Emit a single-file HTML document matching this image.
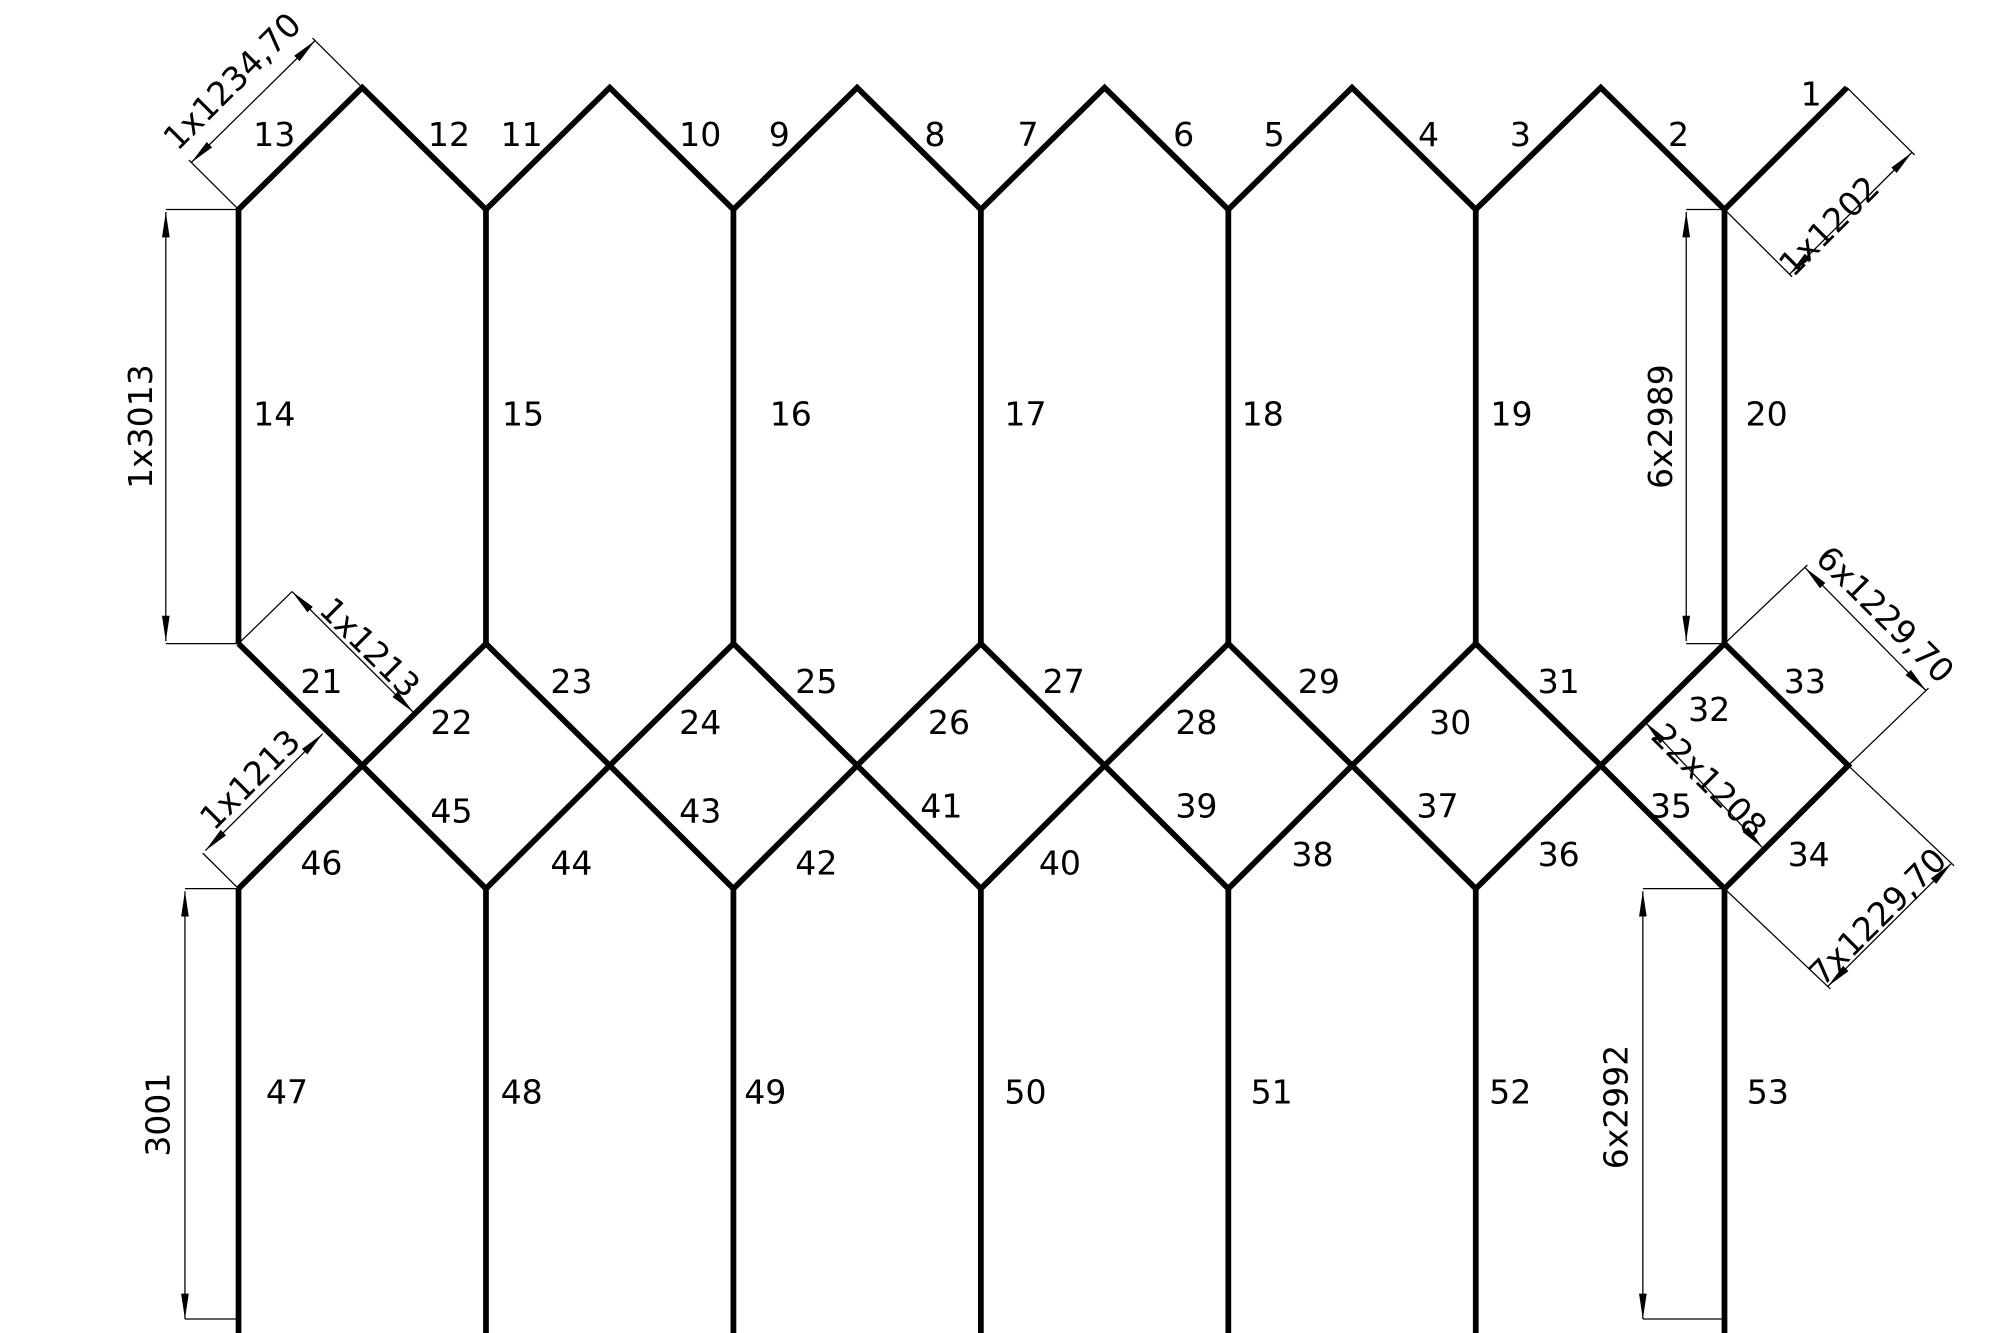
<!DOCTYPE html>
<html><head><meta charset="utf-8"><style>html,body{margin:0;padding:0;background:#fff}svg{display:block}</style></head>
<body>
<svg width="2000" height="1333" viewBox="0 -2 1568 1050" preserveAspectRatio="none" xmlns="http://www.w3.org/2000/svg">
<defs>
<marker id="a" viewBox="0 0 20 8" refX="20" refY="4" markerWidth="20" markerHeight="8" markerUnits="userSpaceOnUse" orient="auto-start-reverse"><path d="M0,1 L20,4 L0,7 z" fill="#000"/></marker>
</defs>
<rect x="0" y="-2" width="1568" height="1050" fill="#fff"/>
<g fill="none" stroke="#000" stroke-width="4.5" stroke-linejoin="miter">
<polyline points="187,505 187,163 284,67 381,163 478,67 575,163 672,67 769,163 866,67 963,163 1060,67 1157,163 1255,67 1352,163 1448,67"/>
<line x1="381" y1="163" x2="381" y2="505"/><line x1="575" y1="163" x2="575" y2="505"/><line x1="769" y1="163" x2="769" y2="505"/><line x1="963" y1="163" x2="963" y2="505"/><line x1="1157" y1="163" x2="1157" y2="505"/><line x1="1352" y1="163" x2="1352" y2="505"/>
<polyline points="187,505 284,601 381,698 478,601 575,505 672,601 769,698 866,601 963,505 1060,601 1157,698 1255,601 1352,505 1449,601 1352,698 1255,601 1157,505 1060,601 963,698 866,601 769,505 672,601 575,698 478,601 381,505 284,601 187,698"/>
<line x1="187" y1="698" x2="187" y2="1050"/><line x1="381" y1="698" x2="381" y2="1050"/><line x1="575" y1="698" x2="575" y2="1050"/><line x1="769" y1="698" x2="769" y2="1050"/><line x1="963" y1="698" x2="963" y2="1050"/><line x1="1157" y1="698" x2="1157" y2="1050"/><line x1="1352" y1="698" x2="1352" y2="1050"/>
</g>
<g fill="none" stroke="#000" stroke-width="1">
<line x1="130" y1="163" x2="187" y2="163"/><line x1="130" y1="505" x2="187" y2="505"/>
<line x1="130" y1="165" x2="130" y2="503" marker-start="url(#a)" marker-end="url(#a)"/>
<line x1="145" y1="698" x2="187" y2="698"/><line x1="145" y1="1037" x2="187" y2="1037"/>
<line x1="145" y1="700" x2="145" y2="1037" marker-start="url(#a)" marker-end="url(#a)"/>
<line x1="1322" y1="163" x2="1352" y2="163"/><line x1="1322" y1="505" x2="1352" y2="505"/>
<line x1="1322" y1="165" x2="1322" y2="503" marker-start="url(#a)" marker-end="url(#a)"/>
<line x1="1288" y1="698" x2="1352" y2="698"/><line x1="1288" y1="1037" x2="1352" y2="1037"/>
<line x1="1288" y1="700" x2="1288" y2="1037" marker-start="url(#a)" marker-end="url(#a)"/>
<line x1="187" y1="163" x2="148" y2="124"/><line x1="284" y1="67" x2="245" y2="28"/>
<line x1="150" y1="126" x2="247" y2="30" marker-start="url(#a)" marker-end="url(#a)"/>
<line x1="1352" y1="163" x2="1405" y2="216"/><line x1="1448" y1="67" x2="1501" y2="120"/>
<line x1="1403" y1="214" x2="1499" y2="118" marker-start="url(#a)" marker-end="url(#a)"/>
<line x1="187" y1="505" x2="229" y2="464"/>
<line x1="229" y1="464" x2="324" y2="559" marker-start="url(#a)" marker-end="url(#a)"/>
<line x1="187" y1="698" x2="159" y2="670"/>
<line x1="161" y1="668" x2="253" y2="576" marker-start="url(#a)" marker-end="url(#a)"/>
<line x1="1352" y1="505" x2="1417" y2="443"/><line x1="1449" y1="601" x2="1512" y2="540"/>
<line x1="1415" y1="445" x2="1510" y2="542" marker-start="url(#a)" marker-end="url(#a)"/>
<line x1="1352" y1="698" x2="1435" y2="777"/><line x1="1449" y1="601" x2="1532" y2="680"/>
<line x1="1433" y1="775" x2="1530" y2="678" marker-start="url(#a)" marker-end="url(#a)"/>
<line x1="1290" y1="567" x2="1382" y2="666" marker-start="url(#a)" marker-end="url(#a)"/>
</g>
<g font-family="'DejaVu Sans','Liberation Sans',sans-serif" font-size="26" text-anchor="middle" dominant-baseline="central" fill="#000">
<text x="215" y="104">13</text><text x="352" y="104">12</text><text x="409" y="104">11</text><text x="549" y="104">10</text><text x="611" y="104">9</text><text x="733" y="104">8</text><text x="806" y="104">7</text><text x="928" y="104">6</text><text x="999" y="104">5</text><text x="1120" y="104">4</text><text x="1192" y="104">3</text><text x="1316" y="104">2</text><text x="1420" y="72">1</text>
<text x="215" y="324">14</text><text x="410" y="324">15</text><text x="620" y="324">16</text><text x="804" y="324">17</text><text x="990" y="324">18</text><text x="1185" y="324">19</text><text x="1385" y="324">20</text>
<text x="252" y="535">21</text><text x="354" y="567">22</text><text x="448" y="535">23</text><text x="549" y="567">24</text><text x="640" y="535">25</text><text x="744" y="567">26</text><text x="834" y="535">27</text><text x="938" y="567">28</text><text x="1034" y="535">29</text><text x="1137" y="567">30</text><text x="1222" y="535">31</text><text x="1340" y="557">32</text><text x="1415" y="535">33</text>
<text x="354" y="637">45</text><text x="252" y="678">46</text><text x="448" y="678">44</text><text x="549" y="637">43</text><text x="640" y="678">42</text><text x="738" y="633">41</text><text x="831" y="678">40</text><text x="938" y="633">39</text><text x="1029" y="671">38</text><text x="1127" y="633">37</text><text x="1222" y="671">36</text><text x="1310" y="633">35</text><text x="1418" y="671">34</text>
<text x="225" y="858">47</text><text x="409" y="858">48</text><text x="600" y="858">49</text><text x="804" y="858">50</text><text x="997" y="858">51</text><text x="1184" y="858">52</text><text x="1386" y="858">53</text>
<text transform="translate(110,334) rotate(-90)">1x3013</text>
<text transform="translate(124,876) rotate(-90)">3001</text>
<text transform="translate(1302,334) rotate(-90)">6x2989</text>
<text transform="translate(1267,870) rotate(-90)">6x2992</text>
<text transform="translate(182,62) rotate(-45)">1x1234,70</text>
<text transform="translate(1434,176) rotate(-45)">1x1202</text>
<text transform="translate(290,508) rotate(45)">1x1213</text>
<text transform="translate(196,612) rotate(-45)">1x1213</text>
<text transform="translate(1478,482) rotate(45)">6x1229,70</text>
<text transform="translate(1472,720) rotate(-45)">7x1229,70</text>
<text transform="translate(1340,613) rotate(45)">22x1208</text>
</g>
</svg>
</body></html>
